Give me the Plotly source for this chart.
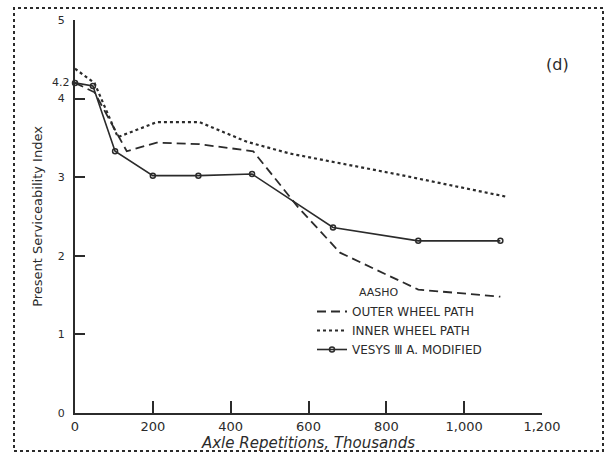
import plotly.graph_objects as go

# Axle repetitions (thousands) and PSI values
outer_x = [0, 50, 133, 210, 320, 458, 573, 681, 882, 1093]
outer_y = [4.2, 4.08, 3.33, 3.44, 3.42, 3.33, 2.62, 2.04, 1.57, 1.48]

inner_x = [0, 50, 110, 210, 320, 442, 553, 835, 1110]
inner_y = [4.38, 4.2, 3.51, 3.7, 3.7, 3.45, 3.3, 3.03, 2.75]

vesys_x = [0, 46, 103, 200, 317, 455, 663, 882, 1093]
vesys_y = [4.2, 4.16, 3.33, 3.02, 3.02, 3.04, 2.36, 2.19, 2.19]

x_ticks = [0, 200, 400, 600, 800, 1000, 1200]
x_ticktext = ["0", "200", "400", "600", "800", "1,000", "1,200"]
y_ticks = [0, 1, 2, 3, 4, 5]

ink = "#2b2b2b"
FONT = "DejaVu Sans"

fig = go.Figure()
fig.add_trace(go.Scatter(x=outer_x, y=outer_y, mode="lines", name="OUTER WHEEL PATH",
                         line=dict(color=ink, width=1.8, dash="9px,5px"), cliponaxis=False))
fig.add_trace(go.Scatter(x=inner_x, y=inner_y, mode="lines", name="INNER WHEEL PATH",
                         line=dict(color=ink, width=2.2, dash="3px,3px"), cliponaxis=False))
fig.add_trace(go.Scatter(x=vesys_x, y=vesys_y, mode="lines+markers", name="VESYS \u2162 A. MODIFIED",
                         line=dict(color=ink, width=1.6),
                         marker=dict(symbol="circle-open", size=5, color=ink, line=dict(width=1.5)),
                         cliponaxis=False))

fig.update_layout(
    width=607, height=458,
    margin=dict(l=75, r=65, t=20, b=45),
    paper_bgcolor="white", plot_bgcolor="white",
    font=dict(family=FONT, color=ink, size=12),
    showlegend=True,
    legend=dict(x=(312 - 75) / 467, y=(413 - 297) / 393, xanchor="left", yanchor="top",
                bgcolor="rgba(0,0,0,0)", font=dict(size=12, family=FONT, color=ink),
                tracegroupgap=0, itemwidth=30),
    xaxis=dict(range=[0, 1200], tickvals=x_ticks, ticktext=x_ticktext,
               ticks="inside", ticklen=12, tickwidth=1.5, tickcolor=ink,
               showline=True, linecolor=ink, linewidth=2, showgrid=False, zeroline=False,
               tickfont=dict(size=13, family=FONT),
               title=dict(text="<i>Axle Repetitions, Thousands</i>", font=dict(size=15, family=FONT), standoff=3)),
    yaxis=dict(range=[0, 5], tickvals=y_ticks,
               ticks="inside", ticklen=10, tickwidth=1.5, tickcolor=ink,
               showline=True, linecolor=ink, linewidth=2, showgrid=False, zeroline=False,
               tickfont=dict(size=11, family=FONT), ticklabelstandoff=6,
               title=dict(text="Present Serviceability Index", font=dict(size=13, family=FONT), standoff=12)),
)

fig.add_annotation(x=0, y=4.2, xref="x", yref="y", text="4.2", showarrow=False,
                   xanchor="right", xshift=-3, font=dict(size=11, family=FONT))
fig.add_annotation(x=(557 - 75) / 467, y=(413 - 64) / 393, xref="paper", yref="paper", text="(d)",
                   showarrow=False, xanchor="center", yanchor="middle", font=dict(size=16, family=FONT))
fig.add_annotation(x=(357 - 75) / 467, y=(413 - 292) / 393, xref="paper", yref="paper", text="AASHO",
                   showarrow=False, xanchor="left", yanchor="middle", font=dict(size=11, family=FONT))

fig.add_shape(type="rect", xref="paper", yref="paper",
              x0=(14 - 75) / 467, x1=(603 - 75) / 467, y0=(413 - 451) / 393, y1=(413 - 8) / 393,
              line=dict(color=ink, width=2, dash="dot"))

fig.write_html("out.html")
